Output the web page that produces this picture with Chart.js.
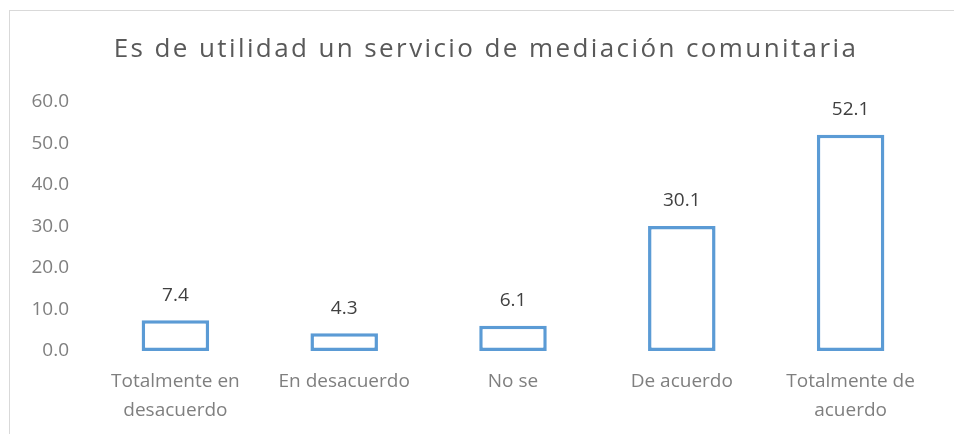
<!DOCTYPE html>
<html>
<head>
<meta charset="utf-8">
<script src="https://cdn.jsdelivr.net/npm/chart.js@4"></script>
<style>
  html, body { margin: 0; padding: 0; background: #fff; }
  #wrap { position: relative; width: 954px; height: 434px; }
  #frame { position: absolute; left: 9px; top: 10px; right: -2px; bottom: -2px; border: 1px solid #d9d9d9; }
  canvas { position: absolute; left: 0; top: 0; }
</style>
</head>
<body>
<div id="wrap">
  <div id="frame"></div>
  <canvas id="chart" width="954" height="434"></canvas>
</div>
<script>
const title = 'Es de utilidad un servicio de mediación comunitaria';
const categories = [
  ['Totalmente en', 'desacuerdo'],
  'En desacuerdo',
  'No se',
  'De acuerdo',
  ['Totalmente de', 'acuerdo']
];
const values = [7.4, 4.3, 6.1, 30.1, 52.1];
const yTicks = [0, 10, 20, 30, 40, 50, 60];

const barColor = '#5B9BD5';
const fontFamily = '"Open Sans", "Noto Sans", sans-serif';

// value labels above each bar
const valueLabels = {
  id: 'valueLabels',
  afterDatasetsDraw(chart) {
    const ctx = chart.ctx;
    const meta = chart.getDatasetMeta(0);
    ctx.save();
    ctx.fillStyle = '#404040';
    ctx.font = '19px ' + fontFamily;
    ctx.textAlign = 'center';
    ctx.textBaseline = 'middle';
    meta.data.forEach((bar, i) => {
      ctx.fillText(values[i].toFixed(1), bar.x, bar.y - 25);
    });
    ctx.restore();
  }
};

// spaced-out title, like the original
const spacedTitle = {
  id: 'spacedTitle',
  afterDraw(chart) {
    const ctx = chart.ctx;
    ctx.save();
    ctx.fillStyle = '#595959';
    ctx.font = '26px ' + fontFamily;
    ctx.letterSpacing = '2.4px';
    ctx.textAlign = 'center';
    ctx.textBaseline = 'middle';
    ctx.fillText(title, 486, 50);
    ctx.restore();
  }
};

const ctx = document.getElementById('chart').getContext('2d');
const chart = new Chart(ctx, {
  type: 'bar',
  data: {
    labels: categories,
    datasets: [{
      data: values,
      backgroundColor: '#ffffff',
      borderColor: barColor,
      borderWidth: 3.5,
      borderSkipped: false,
      categoryPercentage: 1,
      barPercentage: 0.4
    }]
  },
  plugins: [valueLabels, spacedTitle],
  options: {
    responsive: false,
    animation: false,
    layout: { padding: { left: 0, right: 19, top: 102, bottom: 0 } },
    plugins: {
      legend: { display: false },
      tooltip: { enabled: false },
      title: { display: false }
    },
    scales: {
      x: {
        afterFit(scale) { scale.height = 83; },
        grid: { display: false, drawTicks: false },
        border: { display: false },
        ticks: {
          color: '#7f7f7f',
          padding: 16,
          maxRotation: 0,
          font: { family: fontFamily, size: 19, lineHeight: 1.53 }
        }
      },
      y: {
        min: 0,
        max: 60,
        afterFit(scale) { scale.width = 91; },
        afterBuildTicks(scale) { scale.ticks = yTicks.map(v => ({ value: v })); },
        grid: { display: false, drawTicks: false },
        border: { display: false },
        ticks: {
          color: '#7f7f7f',
          padding: 22,
          font: { family: fontFamily, size: 19 },
          callback: v => v.toFixed(1)
        }
      }
    }
  }
});
</script>
</body>
</html>
